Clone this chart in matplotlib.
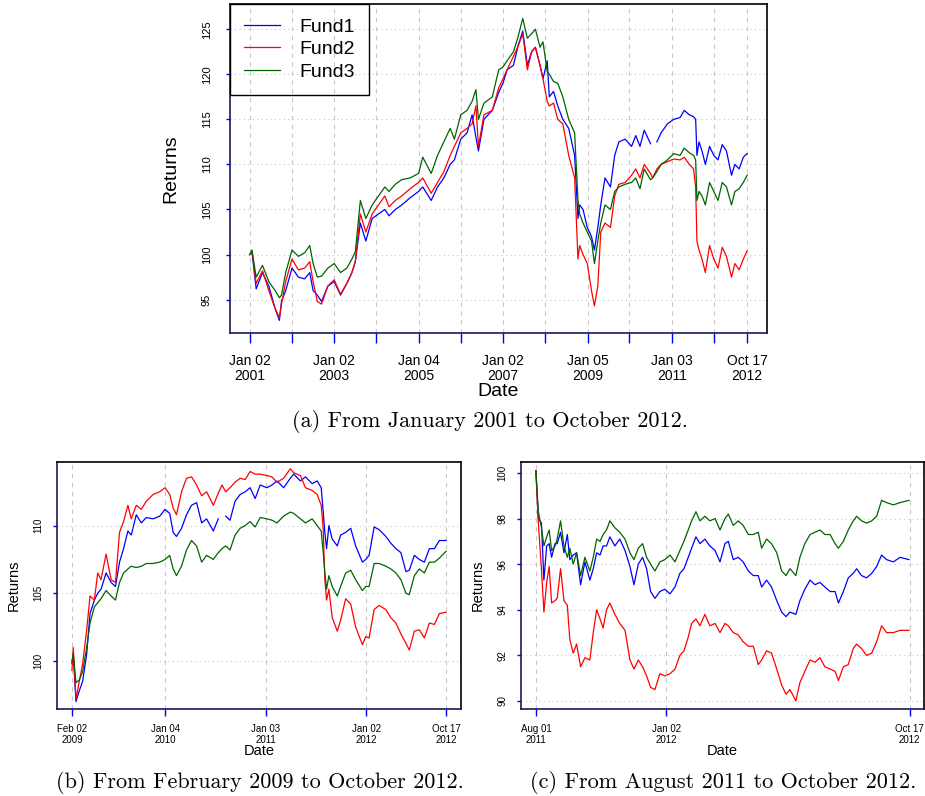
import matplotlib.pyplot as plt
import numpy as np

plt.rcParams['font.family'] = ['Liberation Sans', 'DejaVu Sans']

nan = np.nan
fund_names = ["Fund1", "Fund2", "Fund3"]
fund_colors = ["#0000FF", "#FF0000", "#006400"]

# ---- panel (a): Jan 2001 - Oct 2012 (decimal years) ----
a_dates = np.array([
    2001.00, 2001.05, 2001.15, 2001.30, 2001.45, 2001.60, 2001.70, 2001.75, 2001.85, 2002.00,
    2002.15, 2002.30, 2002.42, 2002.50, 2002.60, 2002.70, 2002.85, 2003.00, 2003.15, 2003.30,
    2003.42, 2003.50, 2003.62, 2003.75, 2003.90, 2004.05, 2004.20, 2004.30, 2004.45, 2004.60,
    2004.80, 2005.00, 2005.10, 2005.30, 2005.45, 2005.60, 2005.75, 2005.85, 2006.00, 2006.15,
    2006.27, 2006.36, 2006.42, 2006.55, 2006.75, 2006.90, 2007.00, 2007.10, 2007.25, 2007.35,
    2007.47, 2007.58, 2007.68, 2007.77, 2007.88, 2007.95, 2008.05, 2008.10, 2008.20, 2008.30,
    2008.42, 2008.56, 2008.70, 2008.78, 2008.82, 2008.90, 2009.00, 2009.10, 2009.17, 2009.25,
    2009.32, 2009.42, 2009.55, 2009.65, 2009.75, 2009.90, 2010.05, 2010.15, 2010.25, 2010.35,
    2010.50, 2010.55, 2010.65, 2010.75, 2010.90, 2011.05, 2011.20, 2011.30, 2011.42, 2011.52,
    2011.57, 2011.60, 2011.65, 2011.72, 2011.80, 2011.90, 2012.00, 2012.10, 2012.20, 2012.30,
    2012.42, 2012.50, 2012.60, 2012.70, 2012.79])
a_fund1 = np.array([
    100.0, 100.3, 96.2, 98.0, 96.5, 94.0, 92.7, 94.8, 96.0, 98.5,
    97.5, 97.3, 98.0, 96.0, 95.5, 94.8, 96.5, 97.0, 95.5, 96.8,
    98.0, 99.2, 103.5, 101.5, 104.0, 104.5, 105.0, 104.3, 105.0, 105.5,
    106.3, 107.0, 107.5, 106.0, 107.5, 108.5, 110.0, 110.5, 112.8, 113.5,
    115.5, 113.0, 111.5, 115.0, 116.0, 118.0, 119.0, 120.5, 121.0, 123.0,
    124.8, 121.0, 122.5, 123.0, 121.0, 119.5, 121.5, 117.5, 118.1, 116.5,
    115.0, 114.0, 111.0, 104.0, 105.5, 105.0, 103.0, 102.0, 100.5, 103.0,
    105.5, 108.5, 107.5, 111.0, 112.5, 112.8, 112.0, 113.2, 112.0, 113.8,
    112.3, nan, 112.5, 113.5, 114.5, 115.0, 115.2, 116.0, 115.5, 115.3,
    115.0, 111.0, 112.5, 111.5, 110.0, 112.0, 111.0, 110.5, 112.2, 111.5,
    108.8, 110.0, 109.5, 110.8, 111.2])
a_fund2 = np.array([
    100.0, 100.4, 96.8, 98.2, 96.0, 94.0, 93.0, 94.5, 97.0, 99.5,
    98.3, 98.5, 99.2, 97.0, 94.8, 94.5, 96.5, 97.2, 95.6, 96.8,
    98.0, 99.2, 104.5, 102.5, 104.5, 105.5, 106.5, 105.3, 106.0, 106.5,
    107.3, 108.0, 108.5, 106.8, 108.0, 109.2, 111.0, 112.0, 113.5, 114.0,
    114.5, 116.5, 112.0, 115.5, 116.0, 118.5, 119.5, 120.5, 122.0, 123.0,
    124.5, 120.5, 122.5, 123.0, 121.0, 119.5, 117.0, 116.5, 116.8, 115.0,
    114.5, 111.0, 108.5, 99.5, 101.0, 100.0, 99.0, 96.0, 94.3, 96.5,
    102.5, 103.5, 103.0, 106.5, 107.8, 108.0, 108.8, 109.5, 108.5, 110.0,
    109.0, 108.5, 109.5, 110.0, 110.3, 110.6, 110.5, 110.8, 110.0, 109.5,
    107.5, 101.5, 100.5, 99.5, 98.0, 101.0, 99.5, 98.5, 100.8, 99.8,
    97.5, 99.0, 98.3, 99.5, 100.4])
a_fund3 = np.array([
    100.0, 100.5, 97.5, 98.8, 97.0, 96.0, 95.2, 95.5, 98.0, 100.5,
    99.8, 100.2, 101.0, 99.0, 97.5, 97.6, 98.5, 99.0, 98.0, 98.5,
    99.5, 100.3, 106.0, 104.0, 105.5, 106.5, 107.5, 107.0, 107.8, 108.3,
    108.5, 109.0, 110.8, 109.0, 111.0, 112.5, 114.0, 112.8, 115.5, 116.0,
    117.0, 118.3, 115.0, 116.8, 117.5, 120.5, 120.8, 121.5, 122.5, 124.0,
    126.2, 124.0, 124.5, 125.0, 123.0, 123.6, 120.3, 120.0, 119.2, 119.0,
    117.5, 115.0, 113.5, 106.0, 104.5, 103.5, 102.5, 101.5, 99.0, 101.5,
    103.5, 105.5, 105.0, 107.0, 107.5, 107.8, 108.0, 108.5, 107.3, 109.5,
    108.3, 108.5, 109.2, 110.0, 110.5, 111.2, 111.0, 111.8, 111.3, 111.0,
    110.5, 106.0, 107.0, 106.5, 105.5, 108.0, 107.0, 106.0, 108.0, 107.5,
    105.5, 107.0, 107.3, 108.0, 108.8])
a_ticks = [2001.003, 2003.0, 2005.008, 2007.003, 2009.011, 2011.005, 2012.792]
a_ticklabels = ["Jan 02\n2001", "Jan 02\n2003", "Jan 04\n2005", "Jan 02\n2007",
                "Jan 05\n2009", "Jan 03\n2011", "Oct 17\n2012"]
a_minor = [2002.0, 2004.0, 2006.0, 2008.0, 2010.0, 2012.0]
a_yticks = [95, 100, 105, 110, 115, 120, 125]

# ---- panel (b): Feb 2009 - Oct 2012 ----
b_dates = np.array([
    2009.088, 2009.101, 2009.128, 2009.161, 2009.194, 2009.234, 2009.267, 2009.310, 2009.343, 2009.376,
    2009.426, 2009.476, 2009.519, 2009.559, 2009.599, 2009.642, 2009.675, 2009.725, 2009.775, 2009.824,
    2009.891, 2009.957, 2010.010, 2010.056, 2010.090, 2010.123, 2010.173, 2010.222, 2010.272, 2010.322,
    2010.372, 2010.421, 2010.488, 2010.537, 2010.574, 2010.610, 2010.653, 2010.703, 2010.753, 2010.803,
    2010.852, 2010.902, 2010.952, 2011.018, 2011.068, 2011.118, 2011.184, 2011.250, 2011.284, 2011.350,
    2011.400, 2011.466, 2011.516, 2011.556, 2011.576, 2011.592, 2011.609, 2011.632, 2011.665, 2011.715,
    2011.748, 2011.798, 2011.848, 2011.897, 2011.964, 2011.997, 2012.030, 2012.080, 2012.129, 2012.196,
    2012.245, 2012.295, 2012.345, 2012.395, 2012.428, 2012.478, 2012.527, 2012.577, 2012.627, 2012.677,
    2012.726, 2012.792])
b_fund1 = np.array([
    99.8, 100.5, 97.0, 97.8, 98.5, 100.5, 103.5, 104.5, 105.0, 105.3,
    106.5, 105.8, 105.5, 107.3, 108.3, 109.6, 109.3, 110.8, 110.2, 110.6,
    110.5, 110.7, 111.2, 110.9, 109.5, 109.2, 109.8, 110.8, 111.5, 111.7,
    110.2, 110.5, 109.6, 110.5, nan, 110.7, 110.4, 111.8, 112.3, 112.5,
    112.8, 112.0, 113.0, 112.8, 113.0, 113.3, 112.8, 113.5, 113.8, 113.3,
    113.6, 113.1, 113.3, 112.8, 111.0, 109.5, 108.3, 110.0, 109.0, 108.5,
    109.3, 109.5, 109.8, 108.5, 107.3, 107.5, 107.8, 109.9, 109.7, 109.2,
    108.7, 108.3, 108.0, 106.6, 106.7, 107.8, 107.5, 107.3, 108.3, 108.3,
    108.9, 108.9])
b_fund2 = np.array([
    99.3, 101.0, 97.2, 98.5, 99.8, 102.3, 104.8, 104.5, 106.5, 106.0,
    107.9, 106.0, 105.8, 109.5, 110.3, 111.5, 110.5, 111.5, 111.2, 111.8,
    112.3, 112.5, 112.8, 112.3, 111.3, 110.8, 112.5, 113.5, 113.6, 113.0,
    112.2, 112.5, 111.5, 112.4, 113.0, 112.5, 112.8, 113.2, 113.5, 113.4,
    114.0, 113.8, 113.8, 113.7, 113.6, 113.2, 113.5, 114.2, 113.9, 113.7,
    112.8, 112.6, 112.3, 111.5, 109.7, 106.0, 104.5, 105.3, 103.2, 102.2,
    103.0, 104.6, 104.2, 102.5, 101.2, 101.8, 101.7, 103.8, 104.1, 103.8,
    103.2, 102.8, 102.0, 101.3, 100.8, 102.2, 102.3, 101.7, 102.8, 102.7,
    103.5, 103.6])
b_fund3 = np.array([
    100.0, 100.5, 98.4, 98.6, 99.2, 101.0, 102.8, 104.0, 104.3, 104.6,
    105.2, 104.8, 104.5, 105.8, 106.5, 106.8, 107.0, 106.9, 107.0, 107.2,
    107.2, 107.3, 107.5, 107.8, 106.8, 106.3, 107.0, 108.2, 108.9, 108.5,
    107.3, 107.8, 107.5, 108.0, 108.3, 108.5, 108.2, 109.3, 109.8, 110.0,
    110.3, 109.9, 110.6, 110.5, 110.4, 110.2, 110.7, 111.0, 110.9, 110.5,
    110.2, 110.5, 110.0, 109.6, 108.0, 106.5, 105.3, 106.3, 105.5, 104.8,
    105.5, 106.5, 106.7, 106.0, 105.2, 105.5, 105.5, 107.2, 107.2, 107.0,
    106.8, 106.5, 106.0, 105.0, 104.9, 106.3, 106.8, 106.5, 107.3, 107.3,
    107.6, 108.1])
b_ticks = [2009.088, 2010.010, 2011.008, 2012.003, 2012.792]
b_ticklabels = ["Feb 02\n2009", "Jan 04\n2010", "Jan 03\n2011", "Jan 02\n2012", "Oct 17\n2012"]
b_yticks = [100, 105, 110]

# ---- panel (c): Aug 2011 - Oct 2012 ----
c_dates = np.array([
    2011.580, 2011.588, 2011.598, 2011.606, 2011.615, 2011.623, 2011.631, 2011.642, 2011.649, 2011.660,
    2011.671, 2011.682, 2011.690, 2011.701, 2011.712, 2011.725, 2011.739, 2011.755, 2011.766, 2011.777,
    2011.788, 2011.798, 2011.809, 2011.820, 2011.836, 2011.852, 2011.869, 2011.885, 2011.898, 2011.912,
    2011.926, 2011.939, 2011.952, 2011.966, 2011.982, 2011.998, 2012.015, 2012.031, 2012.047, 2012.060,
    2012.074, 2012.085, 2012.099, 2012.112, 2012.128, 2012.144, 2012.161, 2012.177, 2012.193, 2012.204,
    2012.220, 2012.236, 2012.252, 2012.269, 2012.285, 2012.301, 2012.312, 2012.328, 2012.344, 2012.361,
    2012.377, 2012.391, 2012.404, 2012.423, 2012.436, 2012.452, 2012.469, 2012.485, 2012.501, 2012.517,
    2012.534, 2012.550, 2012.561, 2012.577, 2012.593, 2012.609, 2012.620, 2012.636, 2012.652, 2012.669,
    2012.685, 2012.701, 2012.717, 2012.739, 2012.761, 2012.790])
c_fund1 = np.array([
    100.1, 98.0, 97.8, 95.3, 96.8, 96.9, 96.3, 96.9, 96.9, 97.4,
    96.5, 97.3, 96.2, 96.4, 96.5, 95.1, 96.1, 95.3, 95.8, 96.5,
    96.4, 96.8, 96.8, 97.2, 96.8, 97.1, 96.6, 95.9, 95.1, 96.0,
    96.3, 95.8, 94.8, 94.5, 94.8, 94.9, 94.7, 95.0, 95.6, 95.8,
    96.3, 96.7, 97.2, 96.9, 97.1, 96.8, 96.6, 96.1, 96.9, 97.0,
    96.2, 96.3, 96.1, 95.7, 95.5, 95.5, 95.0, 95.3, 95.0, 94.4,
    93.9, 93.7, 93.9, 93.8, 94.4, 94.9, 95.3, 95.1, 95.2, 95.0,
    94.8, 94.8, 94.3, 94.8, 95.4, 95.6, 95.8, 95.5, 95.4, 95.6,
    95.9, 96.4, 96.2, 96.1, 96.3, 96.2])
c_fund2 = np.array([
    100.1, 97.8, 95.8, 93.9, 95.2, 95.9, 94.3, 94.4, 94.5, 95.8,
    94.4, 94.2, 92.7, 92.1, 92.5, 91.5, 91.9, 91.8, 93.0, 94.0,
    93.6, 93.2, 94.0, 94.3, 93.8, 93.4, 93.1, 91.8, 91.4, 91.8,
    91.5, 91.1, 90.6, 90.5, 91.2, 91.1, 91.2, 91.4, 92.0, 92.2,
    92.8, 93.4, 93.6, 93.3, 93.8, 93.3, 93.4, 93.0, 93.4, 93.3,
    93.0, 92.9, 92.6, 92.4, 92.4, 91.6, 91.8, 92.2, 92.1, 91.4,
    90.7, 90.3, 90.5, 90.0, 90.8, 91.3, 91.8, 91.7, 91.9, 91.5,
    91.4, 91.3, 90.9, 91.5, 91.6, 92.3, 92.5, 92.3, 92.0, 92.1,
    92.6, 93.3, 93.0, 93.0, 93.1, 93.1])
c_fund3 = np.array([
    100.1, 98.3, 97.6, 96.8, 97.2, 97.5, 96.6, 96.8, 97.1, 97.9,
    96.8, 96.3, 96.7, 96.0, 96.5, 95.5, 96.3, 95.7, 96.3, 97.1,
    97.0, 97.3, 97.5, 97.9, 97.6, 97.4, 97.1, 96.5, 96.2, 96.7,
    96.9, 96.3, 96.0, 95.7, 96.1, 96.2, 96.4, 96.1, 96.6, 97.0,
    97.5, 97.9, 98.3, 97.9, 98.1, 97.9, 98.0, 97.5, 98.0, 98.2,
    97.7, 97.9, 97.7, 97.3, 97.3, 97.4, 96.7, 97.1, 96.9, 96.5,
    95.7, 95.5, 95.8, 95.5, 96.3, 96.9, 97.3, 97.4, 97.5, 97.3,
    97.3, 96.9, 96.7, 97.0, 97.5, 97.9, 98.1, 97.9, 97.8, 97.9,
    98.1, 98.8, 98.7, 98.6, 98.7, 98.8])
c_ticks = [2011.580, 2012.003, 2012.792]
c_ticklabels = ["Aug 01\n2011", "Jan 02\n2012", "Oct 17\n2012"]
c_yticks = [90, 92, 94, 96, 98, 100]

captions = ["(a) From January 2001 to October 2012.",
            "(b) From February 2009 to October 2012.",
            "(c) From August 2011 to October 2012."]


def draw_panel(ax, dates, funds, ticks, ticklabels, yticks, ylim, minor,
               tick_fs, ytick_fs, lab_fs, ticklen, pad, ypad, lab_y):
    for vals, col, name in zip(funds, fund_colors, fund_names):
        ax.plot(dates, vals, color=col, lw=0.9, label=name)
    span = dates[-1] - dates[0]
    ax.set_xlim(dates[0] - 0.04 * span, dates[-1] + 0.04 * span)
    ax.set_ylim(*ylim)
    ax.set_xticks(ticks)
    ax.set_xticklabels(ticklabels, fontsize=tick_fs, linespacing=1.15)
    if minor:
        ax.set_xticks(minor, minor=True)
    ax.set_yticks(yticks)
    ax.set_yticklabels([str(v) for v in yticks], fontsize=ytick_fs,
                       rotation=90, va='center')
    ax.tick_params(axis='x', which='both', color='#0000FF', length=ticklen,
                   width=1.0, pad=pad)
    ax.tick_params(axis='y', color='#0000FF', length=3, width=1.0, pad=ypad)
    ax.xaxis.grid(True, which='both', color='#c8c8c8', lw=0.8, ls=(0, (4, 4)))
    ax.yaxis.grid(True, color='#c8c8c8', lw=0.8, ls=(0, (1, 3)))
    ax.set_axisbelow(True)
    for side in ['top', 'right']:
        ax.spines[side].set_color('black')
        ax.spines[side].set_linewidth(1.2)
    for side in ['left', 'bottom']:
        ax.spines[side].set_color('#1a1a5e')
        ax.spines[side].set_linewidth(1.2)
    ax.text(0.5, lab_y, "Date", transform=ax.transAxes, ha='center',
            va='center', fontsize=lab_fs)
    ax.set_ylabel("Returns", fontsize=lab_fs)


fig = plt.figure(figsize=(9.25, 7.96), dpi=100)

ax_a = fig.add_axes([0.2486, 0.5817, 0.5806, 0.4133])
draw_panel(ax_a, a_dates, [a_fund1, a_fund2, a_fund3], a_ticks, a_ticklabels,
           a_yticks, (91.3, 127.8), a_minor, 10, 8, 14, 7, 8, 10, -0.178)
ax_a.yaxis.set_label_coords(-0.095, 0.5)
leg = ax_a.legend(loc='upper left', bbox_to_anchor=(0, 1), borderaxespad=0,
                  fontsize=14, frameon=True, fancybox=False, framealpha=1,
                  edgecolor='black', handlelength=1.85, handletextpad=1.0,
                  labelspacing=0.25, borderpad=0.72)
leg.get_frame().set_facecolor('none')
leg.get_frame().set_linewidth(1.0)

ax_b = fig.add_axes([0.0616, 0.1093, 0.4368, 0.3103])
draw_panel(ax_b, b_dates, [b_fund1, b_fund2, b_fund3], b_ticks, b_ticklabels,
           b_yticks, (96.45, 114.7), None, 7, 7, 10.5, 5, 6, 7, -0.172)
ax_b.yaxis.set_label_coords(-0.09, 0.5)

ax_c = fig.add_axes([0.5632, 0.1093, 0.4357, 0.3103])
draw_panel(ax_c, c_dates, [c_fund1, c_fund2, c_fund3], c_ticks, c_ticklabels,
           c_yticks, (89.65, 100.48), None, 7, 7, 10.5, 5, 6, 7, -0.172)
ax_c.yaxis.set_label_coords(-0.09, 0.5)

fig.text(490 / 925, 1 - 421 / 796, captions[0], family='cmr10', fontsize=16,
         ha='center', va='center')
fig.text(260 / 925, 1 - 782 / 796, captions[1], family='cmr10', fontsize=16,
         ha='center', va='center')
fig.text(723 / 925, 1 - 782 / 796, captions[2], family='cmr10', fontsize=16,
         ha='center', va='center')

fig.savefig("out.png", dpi=100)
